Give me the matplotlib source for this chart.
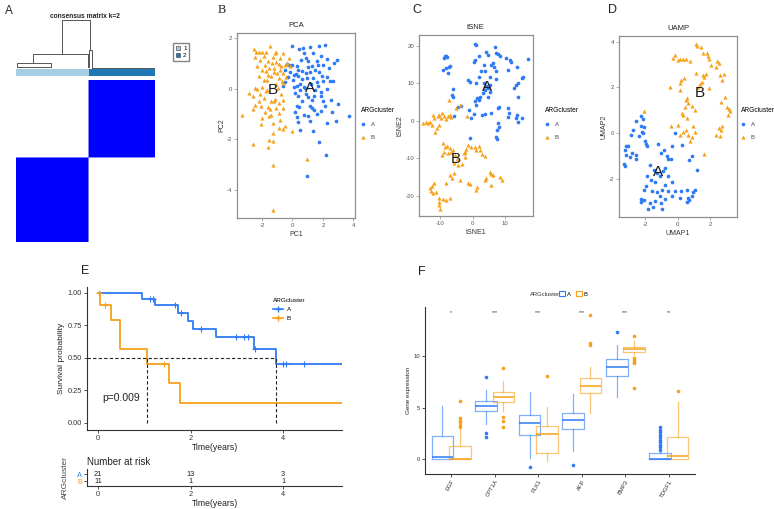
import numpy as np
import matplotlib
matplotlib.use("Agg")
import matplotlib.pyplot as plt
from matplotlib.colors import ListedColormap
from matplotlib.lines import Line2D
from matplotlib.patches import Patch

plt.rcParams["font.family"] = ["Liberation Sans", "DejaVu Sans"]
plt.rcParams["axes.unicode_minus"] = False

W, H = 774, 509
BLUE = "#2F7BF5"
ORANGE = "#F7A11A"
CC_LIGHT = "#A6CEE3"
CC_DARK = "#1F78B4"

# ---- A: consensus matrix ----------------------------------------------
N_CLUSTER1 = 120
N_CLUSTER2 = 110
# (x_left, x_right, height, left child height, right child height), x in sample index
DENDRO_LINKS = [
    (76, 122, 1.00, 0.29, 0.37),
    (28, 119, 0.29, 0.10, 0.02),
    (2, 58, 0.10, 0.03, 0.03),
    (2, 58, 0.03, 0.03, 0.03),
    (120, 125, 0.37, 0.02, 0.01),
    (125, 230, 0.01, 0.01, 0.01),
]

# ---- B/C/D: embeddings --------------------------------------------------
PCA_A = [(0, 1.67), (0.72, 1.61), (1.15, 1.64), (1.74, 1.70), (2.13, 1.74), (1.37, 1.41), (0.78, 1.41),
         (2.24, 1.17), (2.89, 1.14), (2.74, 1.01), (-0.37, 0.99), (-0.22, 0.95), (-0.04, 0.92), (0.28, 0.91),
         (0.57, 1.14), (1.04, 1.08), (1.26, 0.88), (1.59, 1.08), (2.02, 0.95), (0.39, 0.75), (0.65, 0.71),
         (0.89, 0.64), (1.15, 0.68), (1.48, 0.75), (1.74, 0.68), (1.91, 0.51), (2.24, 0.46), (2.46, 0.29),
         (2.67, 0.29), (-0.48, 0.75), (-0.15, 0.68), (0.13, 0.55), (0.39, 0.49), (0.61, 0.39), (0.93, 0.42),
         (1.37, 0.42), (1.59, 0.25), (2.02, 0.29), (0.11, 0.07), (0.28, 0.12), (0.50, -0.04), (0.83, 0.03),
         (1.48, -0.04), (1.87, -0.11), (2.24, -0.01), (-0.65, 0.09), (-0.48, 0.25), (0.17, -0.17),
         (0.39, -0.30), (1.04, -0.33), (1.43, -0.30), (1.87, -0.30), (2.52, -0.43), (2.96, -0.59),
         (0.28, -0.70), (0.43, -0.72), (1.15, -0.70), (1.30, -0.76), (2.13, -0.70), (0.17, -0.93),
         (0.78, -1.03), (1.04, -1.09), (1.43, -0.83), (1.87, -0.89), (0.28, -1.12), (2.83, -1.29),
         (2.24, -1.36), (1.15, -1.29), (3.70, -1.07), (0.50, -1.62), (1.37, -1.66), (1.74, -2.12),
         (2.17, -2.61), (0.93, -3.46), (0.2, 0.6), (0.5, 0.2), (0.9, -0.2), (1.2, 0.2), (1.7, 0.1),
         (2.0, -0.5), (0.6, -0.5), (1.6, -1.0), (0.9, 1.2), (1.9, 1.3), (0.05, 0.35), (0.75, 0.05),
         (1.3, -0.45), (2.4, 0.8), (0.35, -1.3), (1.0, 0.85), (2.6, -0.9), (-0.3, 0.45), (1.65, 0.95),
         (0.45, 1.55)]
PCA_B = [(-2.54, 1.57), (-2.39, 1.47), (-2.22, 1.45), (-2.0, 1.47), (-1.72, 1.45), (-1.46, 1.67),
         (-1.17, 1.41), (-1.07, 1.47), (-0.65, 1.43), (-2.48, 1.25), (-2.11, 1.14), (-1.83, 0.95),
         (-1.61, 1.08), (-1.35, 1.01), (-1.09, 1.04), (-0.91, 0.97), (-0.74, 0.88), (-0.52, 0.95),
         (-0.37, 1.01), (-0.15, 0.88), (-2.0, 0.75), (-1.72, 0.71), (-1.52, 0.82), (-1.24, 0.68),
         (-1.02, 0.62), (-0.80, 0.75), (-0.59, 0.62), (-2.22, 0.49), (-1.89, 0.36), (-1.67, 0.36),
         (-1.39, 0.49), (-0.91, 0.42), (-0.70, 0.29), (-2.43, 0.03), (-2.33, -0.01), (-2.0, 0.07),
         (-1.67, -0.04), (-0.96, 0.03), (-2.87, -0.17), (-2.61, -0.30), (-2.15, -0.21), (-1.89, -0.37),
         (-1.39, -0.5), (-1.24, -0.5), (-1.13, -0.41), (-0.87, -0.57), (-0.59, -0.43), (-2.48, -0.63),
         (-2.61, -0.80), (-2.04, -0.70), (-1.61, -0.72), (-1.07, -0.76), (-0.59, -0.76), (-3.3, -1.03),
         (-1.39, -1.03), (-2.0, -1.16), (-1.52, -1.09), (-0.91, -0.96), (-0.80, -1.22), (-1.30, -1.36),
         (-0.48, -1.46), (-0.65, -1.59), (-0.04, -1.66), (-1.28, -1.75), (-1.52, -2.04), (-1.28, -2.08),
         (-2.61, -2.17), (-1.61, -2.28), (-1.28, -3.0), (0.93, -2.78), (-1.28, -4.78), (-0.65, 0.22),
         (-1.9, 1.3), (-1.3, 1.25), (-0.85, 1.2), (-2.3, 0.9), (-1.6, 0.55), (-1.1, 0.2), (-0.4, 0.45),
         (-2.2, -0.5), (-1.75, -0.1), (-0.75, -0.2), (-1.45, -0.8), (-0.9, -1.55), (-2.05, -1.4),
         (-1.2, 0.8), (-0.25, 1.2), (-1.8, -0.9)]
TSNE_A = [(-8.8, 16.6), (-8.4, 17.1), (-8.0, 17.2), (-7.7, 16.9), (-9.0, 13.6), (-8.0, 14.0), (-7.2, 14.4),
          (-6.8, 14.6), (-7.4, 12.6), (-5.8, 8.4), (-6.2, 6.8), (-5.8, 6.2), (-4.5, 3.7), (-3.5, 3.9),
          (-5.5, 1.2), (0.6, 20.4), (1.1, 20.2), (0.6, 16.2), (0.3, 15.7), (2.1, 17.1), (4.2, 18.2),
          (4.7, 17.5), (6.7, 19.5), (7.0, 18.0), (7.7, 17.8), (8.4, 17.2), (10.1, 16.6), (11.3, 16.2),
          (11.8, 15.7), (16.9, 16.4), (3.5, 14.8), (5.7, 14.8), (6.3, 15.3), (6.5, 14.4), (2.6, 13.1),
          (3.9, 13.3), (7.2, 13.3), (10.7, 13.5), (13.5, 14.4), (15.3, 11.7), (14.9, 11.3), (7.2, 11.1),
          (5.2, 11.7), (2.1, 11.6), (-1.4, 10.8), (-0.7, 10.4), (1.1, 10.1), (3.4, 10.0), (4.2, 9.2),
          (5.2, 9.5), (4.7, 8.6), (3.7, 8.2), (3.1, 7.3), (5.2, 7.7), (2.3, 6.4), (1.3, 6.0), (0.6, 5.1),
          (2.1, 5.5), (4.7, 6.4), (13.3, 9.5), (13.8, 10.0), (12.6, 8.6), (13.8, 6.4), (1.1, 4.2),
          (0.3, 1.8), (-1.1, 2.8), (2.9, 1.5), (3.7, 1.8), (5.7, 2.0), (8.2, 3.7), (7.8, 3.3), (10.8, 3.3),
          (11.1, 2.0), (10.8, 0.9), (13.5, 1.5), (13.3, 0.6), (13.7, -0.3), (15.0, 0.6), (7.7, -0.7),
          (8.0, -1.6), (7.3, -2.5), (7.2, -4.3), (7.3, -5.0), (-0.9, -4.7), (-0.4, 0.6)]
TSNE_B = [(-15.1, -0.7), (-14.3, -0.5), (-13.6, -0.7), (-12.9, -0.5), (-12.3, -1.2), (-12.1, 1.5),
          (-11.6, 0.6), (-10.6, 1.1), (-10.1, 1.5), (-9.5, 0.6), (-10.9, -2.0), (-11.3, -2.9), (-10.3, -1.2),
          (-8.8, 1.1), (-8.2, 0.4), (-7.5, 1.1), (-6.5, 0.9), (-6.8, 1.5), (-9.2, 2.0), (-7.2, 5.5),
          (-5.0, 3.3), (-3.9, 4.2), (-1.7, 1.1), (-9.0, -6.0), (-8.5, -6.9), (-7.8, -6.8), (-7.0, -7.4),
          (-8.8, -8.3), (-9.2, -9.2), (-7.5, -8.5), (-6.5, -8.3), (-5.8, -7.8), (-5.2, -9.2), (-4.8, -10.3),
          (-5.5, -11.4), (-4.5, -11.8), (-3.1, -11.6), (-2.7, -8.7), (-2.3, -8.3), (-1.9, -7.6), (-1.4, -6.5),
          (-0.4, -6.9), (0.6, -6.9), (1.1, -7.9), (2.1, -6.8), (2.3, -7.9), (2.9, -8.8), (3.7, -9.4),
          (-2.4, -9.6), (-3.8, -15.8), (-7.0, -14.5), (-5.5, -13.9), (-6.2, -15.4), (-8.0, -16.5),
          (-11.6, -16.7), (-12.3, -17.4), (-13.1, -18.0), (-12.6, -18.7), (-11.9, -19.4), (-11.1, -18.9),
          (-10.3, -20.7), (-10.1, -21.6), (-10.1, -22.5), (-9.9, -23.6), (-9.0, -20.9), (-8.0, -21.2),
          (-7.0, -20.7), (-1.4, -16.5), (-0.9, -16.9), (0.9, -18.5), (1.3, -17.6), (3.7, -15.8),
          (4.2, -15.4), (5.2, -13.6), (5.7, -14.2), (6.3, -14.5), (5.7, -17.2), (8.4, -15.1), (9.0, -15.8)]
UMAP_A = [(-2.22, 0.76), (-2.11, 0.61), (-2.58, 0.51), (-2.26, 0.29), (-2.05, 0.26), (-2.17, 0.07),
          (-2.11, 0.0), (-2.38, -0.12), (-2.73, 0.12), (-2.87, -0.07), (-3.18, -0.58), (-3.04, -0.55),
          (-3.2, -0.73), (-3.14, -0.95), (-2.93, -1.05), (-2.77, -0.87), (-2.52, -0.95), (-2.56, -1.13),
          (-3.28, -1.34), (-3.2, -1.43), (-1.91, -0.47), (-1.85, -0.58), (-1.97, -0.36), (-1.19, -0.48),
          (-0.82, -0.73), (-1.03, -0.87), (-0.68, -1.02), (-0.57, -1.13), (-0.41, -1.13), (-0.37, -0.58),
          (-0.16, 0.0), (0.25, -0.54), (0.70, -1.19), (0.90, -1.02), (1.21, -1.63), (-1.70, -1.38),
          (-1.44, -1.60), (-1.29, -1.75), (-1.85, -1.89), (-1.64, -2.04), (-1.39, -2.15), (-1.09, -1.89),
          (-0.88, -1.67), (-0.78, -1.53), (-0.62, -1.89), (-0.37, -2.15), (-0.78, -2.25), (-1.91, -2.30),
          (-2.05, -2.47), (-1.6, -2.55), (-1.29, -2.59), (-0.98, -2.47), (-0.57, -2.55), (-0.16, -2.55),
          (0.21, -2.55), (0.55, -2.47), (0.96, -2.59), (0.86, -2.76), (0.62, -2.84), (0.14, -2.84),
          (-0.37, -2.76), (-0.78, -2.88), (-1.09, -2.73), (-1.39, -2.98), (-1.70, -3.05), (-2.05, -2.91),
          (-2.26, -2.88), (-2.22, -3.02), (-1.80, -3.32), (-1.5, -3.23), (-0.98, -3.32), (-1.03, -3.05),
          (0.55, -3.03), (0.70, -2.91), (1.03, -2.50)]
UMAP_B = [(-2.05, 0.95), (-0.47, 2.0), (-0.41, 0.29), (0.04, 0.36), (0.14, -0.07), (0.35, 0.07), (0.49, 0.15),
          (0.66, -0.07), (0.76, -0.36), (0.86, -0.15), (1.07, 0.07), (0.96, 0.29), (0.25, 0.87), (0.35, 0.80),
          (0.55, 0.65), (0.45, 1.16), (0.66, 1.31), (0.86, 1.19), (1.03, 1.02), (0.55, 1.53), (0.49, 1.45),
          (0.14, 2.18), (0.21, 2.33), (0.41, 2.40), (0.14, 1.89), (-0.16, 3.42), (-0.27, 3.27), (0.0, 3.2),
          (0.14, 3.24), (0.35, 3.24), (0.49, 3.24), (0.76, 3.17), (1.11, 3.90), (1.17, 3.81), (1.44, 3.75),
          (1.52, 3.52), (1.79, 3.49), (1.85, 3.37), (1.93, 3.23), (2.05, 2.98), (1.72, 2.59), (1.58, 2.55),
          (1.64, 2.44), (1.48, 2.25), (1.37, 2.15), (1.27, 2.0), (1.11, 2.65), (1.89, 1.96), (2.40, 3.17),
          (2.50, 3.05), (2.34, 2.91), (2.60, 2.55), (2.81, 2.59), (2.71, 2.33), (2.87, 1.60), (3.01, 1.16),
          (3.12, 1.05), (3.18, 0.95), (3.08, 0.80), (2.67, 1.38), (2.54, 0.22), (2.67, 0.15), (2.71, 0.32),
          (2.34, -0.07), (2.60, -0.12), (1.64, -0.90)]
PCA_CENTERS = {"A": (1.15, 0.03), "B": (-1.30, -0.04)}
TSNE_CENTERS = {"A": (4.4, 8.9), "B": (-5.2, -10.3)}
UMAP_CENTERS = {"A": (-1.23, -1.72), "B": (1.37, 1.75)}

# ---- E: survival --------------------------------------------------------
KM_A_TIME = [0, 0.94, 1.24, 1.72, 1.94, 2.04, 2.55, 3.37, 3.85, 5.27]
KM_A_SURV = [1.0, 0.952, 0.905, 0.845, 0.785, 0.724, 0.66, 0.566, 0.45, 0.45]
KM_A_CENSOR = [1.12, 1.18, 1.66, 1.79, 2.22, 2.97, 3.16, 3.23, 3.39, 3.99, 4.05, 4.44]
KM_B_TIME = [0, 0.05, 0.27, 0.47, 1.06, 1.54, 1.77, 5.27]
KM_B_SURV = [1.0, 0.909, 0.795, 0.568, 0.455, 0.303, 0.152, 0.152]
KM_B_CENSOR = [0.02, 0.145, 1.43]
P_VALUE = "p=0.009"
RISK_TIMES = [0, 2, 4]
RISK_A = [21, 13, 3]
RISK_B = [11, 1, 1]

# ---- F: boxplots --------------------------------------------------------
GENES = ["EGF", "CPT1A", "PLK1", "AFP", "BMP3", "TDGF1"]
SIG = ["*", "***", "***", "***", "***", "**"]
A_Q1 = [0.0, 4.71, 2.29, 2.90, 8.06, 0.0]
A_MED = [0.2, 5.16, 3.48, 3.80, 8.97, 0.02]
A_Q3 = [2.2, 5.65, 4.29, 4.45, 9.71, 0.55]
A_WLO = [0.0, 3.39, 0.1, 0.74, 6.06, 0.0]
A_WHI = [5.2, 6.7, 6.55, 6.29, 11.06, 0.8]
A_OUT = [[], [7.94, 2.52, 2.1], [-0.77], [-0.55], [12.35],
         [3.16, 2.84, 2.6, 2.35, 2.1, 1.87, 1.65, 1.39, 1.13, 0.9]]
B_Q1 = [0.0, 5.58, 0.58, 6.39, 10.42, 0.0]
B_MED = [0.03, 6.06, 2.42, 7.13, 10.68, 0.26]
B_Q3 = [1.23, 6.48, 3.26, 7.84, 10.9, 2.19]
B_WLO = [0.0, 4.71, -0.16, 4.45, 10.1, 0.0]
B_WHI = [2.9, 7.58, 5.1, 8.9, 11.45, 5.58]
B_OUT = [[5.6, 4.0, 3.7, 3.6, 3.3, 3.1], [8.8, 4.06, 3.7, 3.16], [8.1], [13.97, 11.3, 11.06],
         [11.94, 9.77, 9.6, 9.45, 9.3, 6.87], [6.61]]


def px_axes(fig, left, top, right, bottom):
    return fig.add_axes([left / W, 1 - bottom / H, (right - left) / W, (bottom - top) / H])


def fy(y):
    return 1 - y / H


fig = plt.figure(figsize=(W / 100, H / 100), dpi=100)
fig.patch.set_facecolor("white")

# ======================= A =======================
n_all = N_CLUSTER1 + N_CLUSTER2
dax = px_axes(fig, 16, 18, 155, 69)
for xl, xr, h, hl, hr in DENDRO_LINKS:
    dax.plot([xl, xl, xr, xr], [hl, h, h, hr], color="#555555", lw=0.7)
dax.set_xlim(0, n_all)
dax.set_ylim(-0.02, 1.04)
dax.axis("off")

cax = px_axes(fig, 16, 69, 155, 76)
col_lab = np.array([0] * N_CLUSTER1 + [1] * N_CLUSTER2)
cax.imshow(col_lab[None, :], aspect="auto", cmap=ListedColormap([CC_LIGHT, CC_DARK]),
           interpolation="nearest")
cax.axis("off")

hax = px_axes(fig, 16, 80, 155, 242)
row_lab = col_lab[::-1]
cons = (row_lab[:, None] == col_lab[None, :]).astype(float)
hax.imshow(cons, aspect="auto", cmap=ListedColormap(["white", "#0000FF"]), interpolation="antialiased")
hax.axis("off")

fig.text(85 / W, fy(17), "consensus matrix k=2", ha="center", va="center", fontsize=4.8,
         fontweight="bold", color="#222222")
fig.legend([Patch(facecolor=CC_LIGHT, edgecolor="#555555", lw=0.5),
            Patch(facecolor=CC_DARK, edgecolor="#555555", lw=0.5)], ["1", "2"],
           loc="upper left", bbox_to_anchor=(170 / W, fy(40)), fontsize=4.5, frameon=True,
           fancybox=False, edgecolor="#666666", handlelength=0.7, handleheight=0.7,
           handletextpad=0.5, labelspacing=0.3, borderpad=0.4)


# ======================= B, C, D =======================
def scatter_panel(box, pts_a, pts_b, centers, title, xlabel, ylabel, xlim, ylim, xticks, yticks, leg_x):
    ax = px_axes(fig, *box)
    a = np.array(pts_a)
    b = np.array(pts_b)
    ha = ax.scatter(a[:, 0], a[:, 1], s=7, marker="o", color=BLUE, linewidths=0)
    hb = ax.scatter(b[:, 0], b[:, 1], s=9, marker="^", color=ORANGE, linewidths=0)
    for k, (cx, cy) in centers.items():
        ax.text(cx, cy, k, fontsize=11, ha="center", va="center", color="#1a1a1a")
    ax.set_xlim(*xlim)
    ax.set_ylim(*ylim)
    ax.set_xticks(xticks)
    ax.set_yticks(yticks)
    for sp in ax.spines.values():
        sp.set_color("#8f8f8f")
        sp.set_linewidth(0.9)
    ax.tick_params(length=2, width=0.5, color="#8f8f8f", labelsize=4.3, pad=1.5, labelcolor="#555555")
    ax.set_title(title, fontsize=5.5, pad=4, color="#222222")
    ax.set_xlabel(xlabel, fontsize=5, labelpad=2, color="#333333")
    ax.set_ylabel(ylabel, fontsize=5, labelpad=1, color="#333333")
    leg = ax.legend([ha, hb], ["A", "B"], title="ARGcluster", loc="upper left",
                    bbox_to_anchor=(leg_x / W, fy(107)), bbox_transform=fig.transFigure,
                    frameon=False, fontsize=4.3, title_fontsize=4.8, handletextpad=0.8,
                    labelspacing=1.3, borderaxespad=0, borderpad=0, handlelength=0.8)
    leg._legend_box.align = "left"
    plt.setp(leg.get_texts(), color="#444444")
    return ax


scatter_panel((237, 33, 355, 218), PCA_A, PCA_B, PCA_CENTERS, "PCA", "PC1", "PC2",
              (-3.64, 4.1), (-5.1, 2.2), [-2, 0, 2, 4], [-4, -2, 0, 2], 361)
scatter_panel((419, 35, 533, 216), TSNE_A, TSNE_B, TSNE_CENTERS, "tSNE", "tSNE1", "tSNE2",
              (-16.3, 18.4), (-25.4, 22.8), [-10, 0, 10], [-20, -10, 0, 10, 20], 545)
scatter_panel((619, 36, 737, 217), UMAP_A, UMAP_B, UMAP_CENTERS, "UAMP", "UMAP1", "UMAP2",
              (-3.59, 3.63), (-3.67, 4.25), [-2, 0, 2], [-2, 0, 2, 4], 741)

# ======================= E =======================
eax = px_axes(fig, 87, 287, 342, 430)
curves = []
for t, s, cens, col in [(KM_A_TIME, KM_A_SURV, KM_A_CENSOR, BLUE), (KM_B_TIME, KM_B_SURV, KM_B_CENSOR, ORANGE)]:
    t = np.array(t)
    s = np.array(s)
    eax.step(t, s, where="post", color=col, lw=1.3)
    idx = np.searchsorted(t, cens, side="right") - 1
    eax.plot(cens, s[idx], ls="none", marker="+", ms=4, mew=0.8, color=col)
    curves.append((t, s))
medians = [t[np.argmax(s <= 0.5)] for t, s in curves]
eax.plot([-0.24, max(medians)], [0.5, 0.5], ls=(0, (3, 2)), color="#222222", lw=0.8)
for m in medians:
    eax.plot([m, m], [0, 0.5], ls=(0, (3, 2)), color="#222222", lw=0.8)
eax.text(0.1, 0.19, P_VALUE, fontsize=7.5, ha="left", va="center", color="#222222")
eax.set_xlim(-0.24, 5.27)
eax.set_ylim(-0.056, 1.046)
eax.set_xticks([0, 2, 4])
eax.set_yticks([0, 0.25, 0.5, 0.75, 1.0])
eax.set_yticklabels(["0.00", "0.25", "0.50", "0.75", "1.00"])
for side in ["top", "right"]:
    eax.spines[side].set_visible(False)
for side in ["left", "bottom"]:
    eax.spines[side].set_color("#333333")
    eax.spines[side].set_linewidth(0.8)
eax.tick_params(length=2, width=0.6, labelsize=5.3, pad=1.5, color="#333333", labelcolor="#333333")
eax.set_xlabel("Time(years)", fontsize=6.2, labelpad=1, color="#222222")
eax.set_ylabel("Survival probability", fontsize=6, labelpad=2, color="#222222")
leg = eax.legend([Line2D([], [], color=BLUE, lw=1.2, marker="+", ms=4),
                  Line2D([], [], color=ORANGE, lw=1.2, marker="+", ms=4)], ["A", "B"],
                 title="ARGcluster", loc="upper left", bbox_to_anchor=(273 / W, fy(298)),
                 bbox_transform=fig.transFigure, frameon=False, fontsize=4.5, title_fontsize=4.6,
                 handlelength=1.6, handletextpad=0.6, labelspacing=0.6, borderpad=0, borderaxespad=0)
leg._legend_box.align = "left"

rax = px_axes(fig, 87, 469, 342, 486)
for y, vals, col in [(1, RISK_A, BLUE), (0, RISK_B, ORANGE)]:
    for x, v in zip(RISK_TIMES, vals):
        rax.text(x, y, str(v), ha="center", va="center", fontsize=5.3, color="#222222")
rax.set_xlim(-0.24, 5.27)
rax.set_ylim(-0.66, 1.71)
rax.set_xticks([0, 2, 4])
rax.set_yticks([1, 0])
rax.set_yticklabels(["A", "B"])
for lbl, col in zip(rax.get_yticklabels(), [BLUE, ORANGE]):
    lbl.set_color(col)
for side in ["top", "right"]:
    rax.spines[side].set_visible(False)
for side in ["left", "bottom"]:
    rax.spines[side].set_color("#333333")
    rax.spines[side].set_linewidth(0.8)
rax.tick_params(length=2, width=0.6, labelsize=5.3, pad=1.5, color="#333333")
rax.tick_params(axis="x", labelcolor="#333333")
rax.set_title("Number at risk", loc="left", fontsize=7, pad=3, color="#222222")
rax.set_xlabel("Time(years)", fontsize=6.2, labelpad=1, color="#222222")
rax.set_ylabel("ARGcluster", fontsize=6, labelpad=6, color="#444444")

# ======================= F =======================
fax = px_axes(fig, 425, 307, 695, 474)
pos = np.arange(len(GENES))
for q1, med, q3, wlo, whi, outs, col, off in [
        (A_Q1, A_MED, A_Q3, A_WLO, A_WHI, A_OUT, BLUE, -0.2),
        (B_Q1, B_MED, B_Q3, B_WLO, B_WHI, B_OUT, ORANGE, 0.2)]:
    stats = [dict(q1=q1[i], med=med[i], q3=q3[i], whislo=wlo[i], whishi=whi[i], fliers=outs[i])
             for i in range(len(GENES))]
    fax.bxp(stats, positions=pos + off, widths=0.5, showcaps=False, manage_ticks=False,
            boxprops=dict(color=col, lw=0.9, alpha=0.6),
            whiskerprops=dict(color=col, lw=0.9, alpha=0.6),
            medianprops=dict(color=col, lw=1.1),
            flierprops=dict(marker="o", markerfacecolor=col, markeredgecolor="none", markersize=2.6))
for i, s in enumerate(SIG):
    fax.text(pos[i], 14.2, s, ha="center", va="center", fontsize=3.8, color="#333333")
fax.set_xlim(-0.6, 5.6)
fax.set_ylim(-1.45, 14.77)
fax.set_xticks(pos)
fax.set_xticklabels(GENES, rotation=60, ha="right", rotation_mode="anchor")
fax.set_yticks([0, 5, 10])
for side in ["top", "right"]:
    fax.spines[side].set_visible(False)
for side in ["left", "bottom"]:
    fax.spines[side].set_color("#333333")
    fax.spines[side].set_linewidth(0.8)
fax.tick_params(length=2, width=0.6, labelsize=4.2, pad=1.5, color="#333333", labelcolor="#333333")
fax.set_ylabel("Gene expression", fontsize=4.5, labelpad=2, color="#222222")
fig.text(530 / W, fy(294), "ARGcluster", ha="left", va="center", fontsize=4.2, color="#333333")
fig.legend([Patch(facecolor="white", edgecolor=BLUE, lw=0.8), Patch(facecolor="white", edgecolor=ORANGE, lw=0.8)],
           ["A", "B"], ncol=2, loc="center left", bbox_to_anchor=(559 / W, fy(294)), frameon=False,
           fontsize=4.2, handlelength=1.0, handleheight=0.9, handletextpad=0.4, columnspacing=0.8,
           borderpad=0, borderaxespad=0)

# ======================= panel letters =======================
fig.text(5 / W, fy(11), "A", fontsize=8.5, ha="left", va="center", color="#222222")
fig.text(218 / W, fy(10), "B", fontsize=9, ha="left", va="center", color="#222222", family="Liberation Serif")
fig.text(412 / W, fy(10), "C", fontsize=9, ha="left", va="center", color="#222222")
fig.text(608 / W, fy(10), "D", fontsize=9, ha="left", va="center", color="#222222")
fig.text(81 / W, fy(271), "E", fontsize=9, ha="left", va="center", color="#222222")
fig.text(418 / W, fy(272), "F", fontsize=9, ha="left", va="center", color="#222222")

fig.savefig("out.png", dpi=100)
